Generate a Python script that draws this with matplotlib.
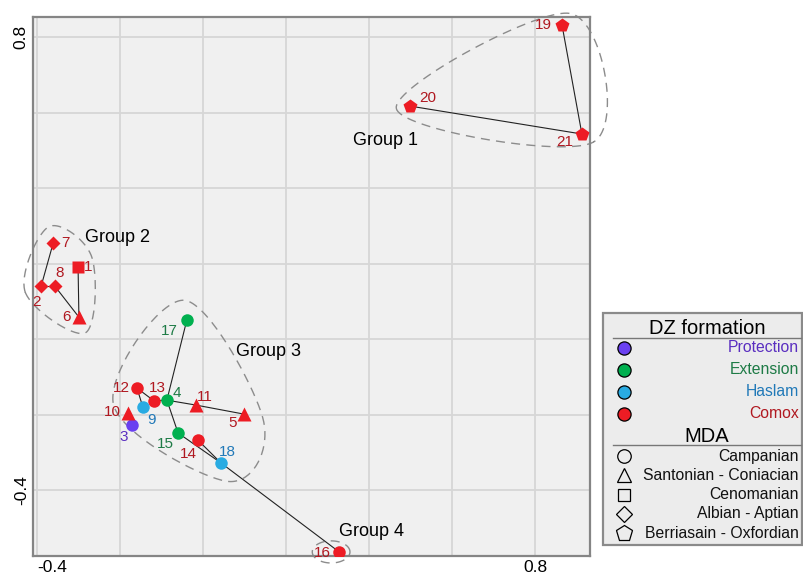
import numpy as np
import matplotlib
matplotlib.use('Agg')
import matplotlib.pyplot as plt
from matplotlib.patches import Rectangle

plt.rcParams['font.family'] = ['Liberation Sans', 'DejaVu Sans']

# MDS coordinates of the 21 samples
sample_ids = list(range(1, 22))
mds_x = [-0.301, -0.390, -0.171, -0.087, 0.099, -0.299, -0.361, -0.357, -0.145, -0.181, -0.017,
         -0.159, -0.118, -0.012, -0.060, 0.328, -0.039, 0.043, 0.865, 0.499, 0.913]
mds_y = [0.191, 0.140, -0.228, -0.162, -0.199, 0.058, 0.254, 0.140, -0.180, -0.196, -0.175,
         -0.130, -0.164, -0.268, -0.249, -0.564, 0.050, -0.328, 0.832, 0.617, 0.543]
formation = ['Comox', 'Comox', 'Protection', 'Extension', 'Comox', 'Comox', 'Comox', 'Comox',
             'Haslam', 'Comox', 'Comox', 'Comox', 'Comox', 'Comox', 'Extension', 'Comox',
             'Extension', 'Haslam', 'Comox', 'Comox', 'Comox']
mda = ['Cenomanian', 'Albian', 'Campanian', 'Campanian', 'Santonian', 'Santonian', 'Albian',
       'Albian', 'Campanian', 'Santonian', 'Santonian', 'Campanian', 'Campanian', 'Campanian',
       'Campanian', 'Campanian', 'Campanian', 'Campanian', 'Berriasian', 'Berriasian', 'Berriasian']

# nearest neighbour links
edges = [(19, 21), (20, 21), (7, 2), (2, 8), (8, 6), (1, 6), (17, 4), (4, 11), (11, 5), (4, 13),
         (13, 12), (12, 9), (4, 15), (15, 18), (14, 18), (18, 16)]

groups = {'Group 1': [19, 20, 21], 'Group 2': [1, 2, 6, 7, 8],
          'Group 3': [3, 4, 5, 9, 10, 11, 12, 13, 14, 15, 17, 18], 'Group 4': [16]}
group_text_pos = {'Group 1': (0.439, 0.525), 'Group 2': (-0.207, 0.270),
                  'Group 3': (0.157, -0.032), 'Group 4': (0.407, -0.511)}
group_pad = {'Group 1': 14, 'Group 2': 17, 'Group 3': 20, 'Group 4': 13}

formation_names = ['Protection', 'Extension', 'Haslam', 'Comox']
mda_names = ['Campanian', 'Santonian', 'Cenomanian', 'Albian', 'Berriasian']
mda_labels = ['Campanian', 'Santonian - Coniacian', 'Cenomanian', 'Albian - Aptian',
              'Berriasain - Oxfordian']

fill_col = {'Protection': '#6a40f0', 'Extension': '#00b04f', 'Haslam': '#29abe2', 'Comox': '#ed1c24'}
text_col = {'Protection': '#5a2ec0', 'Extension': '#1e7b46', 'Haslam': '#2179b8', 'Comox': '#b01820'}
marker_of = {'Campanian': ('o', 9.0), 'Santonian': ('^', 9.6), 'Cenomanian': ('s', 8.6),
             'Albian': ('D', 7.6), 'Berriasian': ('p', 10.8)}

# label offsets in pixels (right, down)
label_off = {1: (10, 0), 2: (-5, 16), 3: (-8, 12), 4: (10, -7), 5: (-11, 9), 6: (-12, 0),
             7: (12, 0), 8: (5, -13), 9: (9, 13), 10: (-15, -1), 11: (9, -8), 12: (-16, 0),
             13: (3, -13), 14: (-10, 14), 15: (-13, 11), 16: (-17, 1), 17: (-17, 11),
             18: (7, -11), 19: (-19, 0), 20: (18, -8), 21: (-17, 8)}

W, H = 804, 575
fig = plt.figure(figsize=(W / 100, H / 100), dpi=100)
ax = fig.add_axes([33 / W, 1 - 556 / H, (590 - 33) / W, (556 - 17) / H])
ax.set_facecolor('#f0f0f0')
ax.set_xlim(-0.4096, 0.9325)
ax.set_ylim(-0.5748, 0.853)

for g in np.arange(-0.4, 0.81, 0.2):
    ax.axvline(g, color='#d6d6d6', lw=1.3, zorder=0)
    ax.axhline(g, color='#d6d6d6', lw=1.3, zorder=0)

for s in ax.spines.values():
    s.set_color('#858585')
    s.set_linewidth(1.6)

ax.set_xticks([-0.4, 0.8])
ax.set_xticklabels(['-0.4', '0.8'], fontsize=12.5)
ax.set_yticks([-0.4, 0.8])
ax.set_yticklabels(['-0.4', '0.8'], fontsize=12.5, rotation=90, va='center')
ax.tick_params(length=0, pad=3)
ax.get_xticklabels()[0].set_ha('left')

idx = {sid: i for i, sid in enumerate(sample_ids)}

for a, b in edges:
    ax.plot([mds_x[idx[a]], mds_x[idx[b]]], [mds_y[idx[a]], mds_y[idx[b]]],
            color='#222222', lw=0.8, zorder=2)

for i, sid in enumerate(sample_ids):
    m, ms = marker_of[mda[i]]
    ax.plot(mds_x[i], mds_y[i], marker=m, ms=ms, color=fill_col[formation[i]],
            mec='none', ls='none', zorder=3)
    dx, dy = label_off[sid]
    ax.annotate(str(sid), (mds_x[i], mds_y[i]), xytext=(dx * 0.72, -dy * 0.72),
                textcoords='offset points', ha='center', va='center', fontsize=11,
                color=text_col[formation[i]], zorder=4)


def convex_hull(p):
    p = sorted(map(tuple, p))
    if len(p) < 3:
        return np.array(p)

    def cross(o, a, b):
        return (a[0] - o[0]) * (b[1] - o[1]) - (a[1] - o[1]) * (b[0] - o[0])
    lower, upper = [], []
    for q in p:
        while len(lower) >= 2 and cross(lower[-2], lower[-1], q) <= 0:
            lower.pop()
        lower.append(q)
    for q in reversed(p):
        while len(upper) >= 2 and cross(upper[-2], upper[-1], q) <= 0:
            upper.pop()
        upper.append(q)
    return np.array(lower[:-1] + upper[:-1])


def smooth_hull(pts, pad, merge=32):
    # padded convex hull, closed Catmull-Rom through its corners (pixel space)
    if len(pts) == 1:
        t = np.linspace(0, 2 * np.pi, 120)
        return np.c_[pts[0, 0] - 8 + pad * 1.45 * np.cos(t), pts[0, 1] + pad * 0.85 * np.sin(t)]
    hull = [v for v in convex_hull(pts)]
    changed = True
    while changed and len(hull) > 3:
        changed = False
        for k in range(len(hull)):
            a, b = hull[k], hull[(k + 1) % len(hull)]
            if np.hypot(*(a - b)) < merge:
                hull[k] = (a + b) / 2
                del hull[(k + 1) % len(hull)]
                changed = True
                break
    hull = np.array(hull)
    c = hull.mean(axis=0)
    d = hull - c
    hull = hull + pad * d / np.hypot(d[:, 0], d[:, 1])[:, None]
    n = len(hull)
    out = []
    t = np.linspace(0, 1, 40)[:, None]
    for k in range(n):
        p0, p1, p2, p3 = hull[k - 1], hull[k], hull[(k + 1) % n], hull[(k + 2) % n]
        out.append(0.5 * (2 * p1 + (-p0 + p2) * t + (2 * p0 - 5 * p1 + 4 * p2 - p3) * t ** 2
                          + (-p0 + 3 * p1 - 3 * p2 + p3) * t ** 3))
    out = np.vstack(out)
    return np.vstack([out, out[:1]])


inv = ax.transData.inverted()
for name, members in groups.items():
    pts = ax.transData.transform(np.c_[[mds_x[idx[s]] for s in members],
                                       [mds_y[idx[s]] for s in members]])
    curve = inv.transform(smooth_hull(pts, group_pad[name]))
    ax.plot(curve[:, 0], curve[:, 1], color='#8c8c8c', lw=1.0, dashes=(6.5, 4.5),
            zorder=1, clip_on=False)
    tx, ty = group_text_pos[name]
    ax.text(tx, ty, name, fontsize=13, ha='center', va='center', zorder=4)

# legend drawn in figure pixel space
lg = fig.add_axes([0, 0, 1, 1], zorder=5)
lg.set_xlim(0, W)
lg.set_ylim(H, 0)
lg.axis('off')
lg.add_patch(Rectangle((603, 313), 199, 232, facecolor='#ececec', edgecolor='#8a8a8a', lw=1.6))
lg.text(707, 328, 'DZ formation', fontsize=14.5, ha='center', va='center')
lg.plot([613, 801], [338, 338], color='#777777', lw=1.0)
for k, f in enumerate(formation_names):
    yy = 348 + k * 22
    lg.plot(624, yy, 'o', ms=9.5, color=fill_col[f], mec='black', mew=0.9)
    lg.text(799, yy, f, fontsize=11.3, ha='right', va='center', color=text_col[f])
lg.text(707, 436, 'MDA', fontsize=14.5, ha='center', va='center')
lg.plot([613, 801], [445, 445], color='#777777', lw=1.0)
for k, (mname, lab) in enumerate(zip(mda_names, mda_labels)):
    yy = 456 + k * 19.3
    m, ms = marker_of[mname]
    lg.plot(624, yy, m, ms=ms * 1.08, mfc='none', mec='black', mew=0.9)
    lg.text(799, yy, lab, fontsize=11.3, ha='right', va='center', color='#111111')

fig.savefig('out.png', dpi=100)
